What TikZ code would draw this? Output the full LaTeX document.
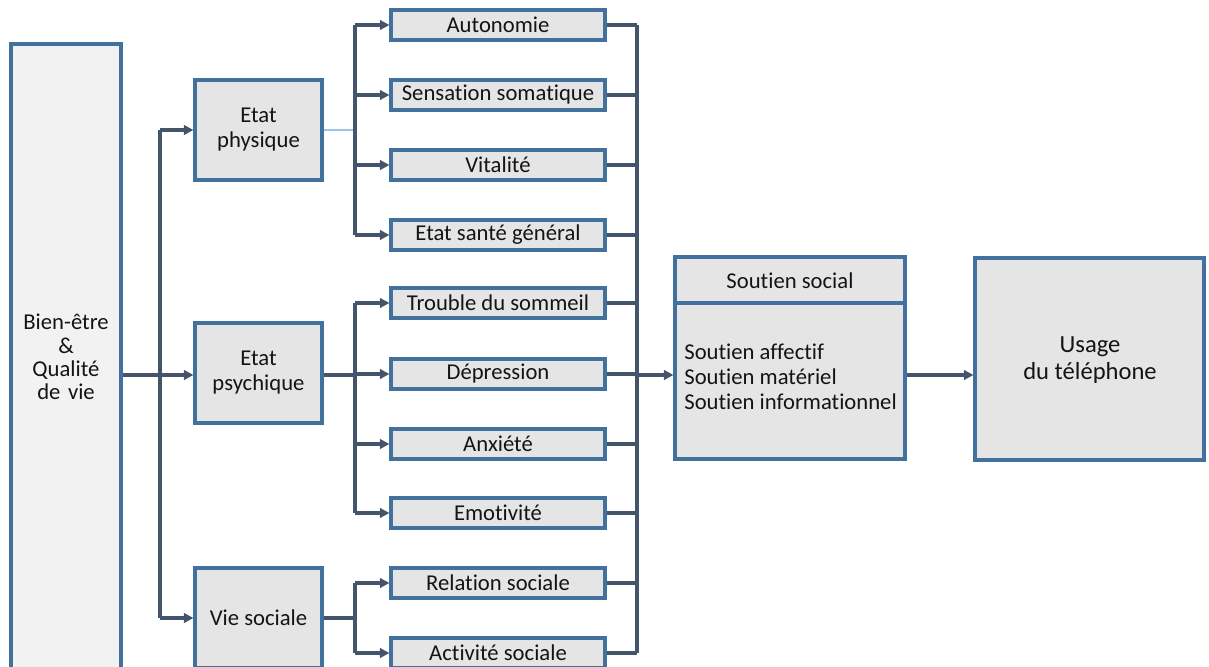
\documentclass[tikz,border=0pt]{standalone}
\usepackage{fontspec}
\setmainfont{Carlito}[Ligatures=NoCommon]
\usetikzlibrary{arrows.meta}
\definecolor{bord}{HTML}{41719C}
\definecolor{conn}{HTML}{44546A}
\definecolor{boxfill}{HTML}{E5E5E5}
\definecolor{bigfill}{HTML}{F2F2F2}
\definecolor{thinblue}{HTML}{9DC3E6}
\tikzset{
  box/.style={draw=bord, line width=1.8pt, fill=boxfill, inner sep=0pt, align=center, font=\fontsize{12.9pt}{14.2pt}\selectfont, text=black!92},
  small/.style={box, minimum width=4.28cm, minimum height=0.6cm},
  mid/.style={box, minimum width=2.54cm, minimum height=2cm},
  wire/.style={draw=conn, line width=1.8pt},
  arr/.style={wire, -{Triangle[length=5.5pt,width=5.5pt]}},
  lbl/.style={align=center, font=\fontsize{12.9pt}{14.2pt}\selectfont, text=black!92, inner sep=0pt}
}
\begin{document}
\begin{tikzpicture}[x=0.02cm, y=-0.02cm]
\useasboundingbox (0,0) rectangle (1209,666);
\clip (0,0) rectangle (1209,666);
% big box
\node[box, fill=bigfill, minimum width=2.2cm, minimum height=13.12cm] (bien) at (66,372) {};
\node[lbl, text width=2cm, font=\fontsize{12.9pt}{13.2pt}\selectfont] (bienlbl) at (66,357) {Bien-être\\\&\\Qualité\\de vie};
% mid boxes
\node[mid] (phys) at (258.5,130) {Etat\\physique};
\node[mid] (psy) at (258.5,373) {Etat\\psychique};
\node[mid] (vie) at (258.5,618) {Vie sociale};
% small boxes
\node[small] (auto) at (498,25) {Autonomie};
\node[small] (sens) at (498,95) {Sensation somatique};
\node[small] (vita) at (498,165) {Vitalité};
\node[small] (sante) at (498,235) {Etat santé général};
\node[small] (troub) at (498,303) {Trouble du sommeil};
\node[small] (dep) at (498,374) {Dépression};
\node[small] (anx) at (498,444) {Anxiété};
\node[small] (emo) at (498,513) {Emotivité};
\node[small] (rel) at (498,583) {Relation sociale};
\node[small] (act) at (498,653) {Activité sociale};
% soutien
\node[box, minimum width=4.6cm, minimum height=4.04cm] (sout) at (790,358) {};
\coordinate (dl) at (675,303);
\coordinate (dr) at (905,303);
\draw[draw=bord, line width=1.8pt] (dl) -- (dr);
\node[lbl] (souttitle) at (790,281) {Soutien social};
\node[lbl, align=left, anchor=west] (soutbody) at (684,377) {Soutien affectif\\Soutien matériel\\Soutien informationnel};
% usage
\node[box, minimum width=4.58cm, minimum height=4.04cm] (usage) at (1089.5,359) {};
\node[lbl, font=\fontsize{14pt}{15.5pt}\selectfont] (usagelbl) at (1090,360) {Usage\\du téléphone};
% trunk coordinates
\coordinate (t1) at (160,0);
\coordinate (t2) at (355,0);
\coordinate (t3) at (637,0);
% left trunk
\draw[arr] (bien.east |- 0,375) -- (psy.west |- 0,375);
\draw[wire] (t1 |- phys.west) -- (t1 |- vie.west);
\draw[arr] (t1 |- phys.west) -- (phys.west);
\draw[arr] (t1 |- vie.west) -- (vie.west);
% physique branch
\draw[draw=thinblue, line width=0.6pt] (phys.east) -- (t2 |- phys.east);
\draw[wire] (t2 |- auto.west) -- (t2 |- sante.west);
\foreach \b in {auto,sens,vita,sante} \draw[arr] (t2 |- \b.west) -- (\b.west);
% psychique branch
\draw[wire] (psy.east |- 0,375) -- (t2 |- 0,375);
\draw[wire] (t2 |- troub.west) -- (t2 |- emo.west);
\foreach \b in {troub,dep,anx,emo} \draw[arr] (t2 |- \b.west) -- (\b.west);
% vie sociale branch
\draw[wire] (vie.east) -- (t2 |- vie.east);
\draw[wire] (t2 |- rel.west) -- (t2 |- act.west);
\foreach \b in {rel,act} \draw[arr] (t2 |- \b.west) -- (\b.west);
% right collector
\foreach \b in {auto,sens,vita,sante,troub,dep,anx,emo,rel,act} \draw[wire] (\b.east) -- (t3 |- \b.east);
\draw[wire] (t3 |- auto.east) -- (t3 |- act.east);
\draw[arr] (t3 |- 0,375) -- (sout.west |- 0,375);
\draw[arr] (sout.east |- 0,375) -- (usage.west |- 0,375);
\end{tikzpicture}
\end{document}
